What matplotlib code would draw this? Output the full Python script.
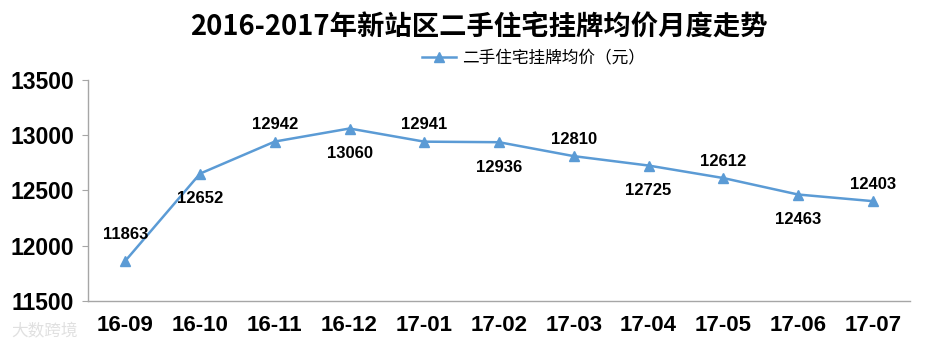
import matplotlib
matplotlib.use("Agg")
import matplotlib.pyplot as plt
from matplotlib.lines import Line2D

months = ["16-09", "16-10", "16-11", "16-12", "17-01", "17-02", "17-03",
          "17-04", "17-05", "17-06", "17-07"]
prices = [11863, 12652, 12942, 13060, 12941, 12936, 12810, 12725, 12612, 12463, 12403]
y_ticks = [11500, 12000, 12500, 13000, 13500]
series_name = "二手住宅挂牌均价（元）"
title = "2016-2017年新站区二手住宅挂牌均价月度走势"

# label offsets in points (style only)
label_offsets = [19, -18, 12, -18, 12, -18, 12, -18, 12, -18, 12]

blue = "#5B9BD5"
axis_gray = "#A6A6A6"
cjk = ["Noto Sans CJK SC", "DejaVu Sans"]
num_font = ["Liberation Sans", "DejaVu Sans"]

fig = plt.figure(figsize=(9.53, 3.51), dpi=100)
ax = fig.add_axes([0.0923, 0.1425, 0.8627, 0.630])

x = list(range(len(months)))
ax.plot(x, prices, color=blue, linewidth=1.8, marker="^", markersize=7,
        markerfacecolor=blue, markeredgecolor=blue)

for xi, v, off in zip(x, prices, label_offsets):
    ax.annotate(f"{v}", (xi, v), xytext=(0, off), textcoords="offset points",
                ha="center", va="center", fontsize=12, fontweight="bold",
                family=num_font, color="black")

ax.set_xlim(-0.5, len(months) - 0.5)
ax.set_ylim(y_ticks[0], y_ticks[-1])
ax.set_yticks(y_ticks)
ax.set_yticklabels([str(t) for t in y_ticks], fontsize=16.5, fontweight="bold",
                   family=num_font)
ax.set_xticks(x)
ax.set_xticklabels(months, fontsize=16, fontweight="bold", family=num_font)
ax.tick_params(axis="x", length=0, pad=10)
ax.tick_params(axis="y", length=4, color=axis_gray, pad=6)

for s in ["top", "right"]:
    ax.spines[s].set_visible(False)
for s in ["left", "bottom"]:
    ax.spines[s].set_color(axis_gray)
    ax.spines[s].set_linewidth(1.0)

fig.text(0.503, 0.92, title, ha="center", va="center", fontsize=19.7,
         fontweight="bold", family=cjk)

handle = Line2D([0], [0], color=blue, linewidth=1.8, marker="^", markersize=7,
                markerfacecolor=blue, markeredgecolor=blue)
leg = fig.legend([handle], [series_name], loc="center", bbox_to_anchor=(0.56, 0.835),
                 frameon=False, handlelength=2.0, handletextpad=0.4,
                 prop={"family": cjk, "size": 12})

fig.text(0.012, 0.055, "大数跨境", ha="left", va="center", fontsize=12,
         family=cjk, color="#D9D9D9", alpha=0.8)

fig.savefig("out.png", dpi=100)
